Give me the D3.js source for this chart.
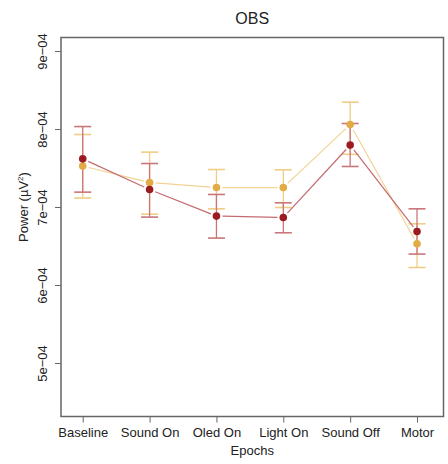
<!DOCTYPE html>
<html>
<head>
<meta charset="utf-8">
<script src="https://cdn.jsdelivr.net/npm/d3@7"></script>
<style>
  html, body { margin: 0; padding: 0; background: #fff; }
  svg text { font-family: "Liberation Sans", Arial, sans-serif; fill: #222; }
</style>
</head>
<body>
<svg id="chart" width="448" height="464"></svg>
<script>
// Epoch categories along the x axis
const epochs = ["Baseline", "Sound On", "Oled On", "Light On", "Sound Off", "Motor"];

// Dark red series: mean power with lower / upper error limits
const redMean  = [7.624e-4, 7.231e-4, 6.890e-4, 6.872e-4, 7.800e-4, 6.692e-4];
const redLow   = [7.197e-4, 6.877e-4, 6.608e-4, 6.676e-4, 7.526e-4, 6.403e-4];
const redHigh  = [8.038e-4, 7.564e-4, 7.167e-4, 7.060e-4, 8.077e-4, 6.983e-4];

// Gold series: mean power with lower / upper error limits
const goldMean = [7.531e-4, 7.321e-4, 7.256e-4, 7.256e-4, 8.064e-4, 6.535e-4];
const goldLow  = [7.121e-4, 6.915e-4, 6.983e-4, 7.000e-4, 7.682e-4, 6.231e-4];
const goldHigh = [7.936e-4, 7.710e-4, 7.487e-4, 7.483e-4, 8.351e-4, 6.791e-4];

// Y axis tick values and labels
const yTicks = [5e-4, 6e-4, 7e-4, 8e-4, 9e-4];
const yTickLabels = ["5e\u221204", "6e\u221204", "7e\u221204", "8e\u221204", "9e\u221204"];

const svg = d3.select("#chart");
const plot = { left: 61, right: 443.5, top: 37.5, bottom: 416.5 };

const x = d3.scaleLinear().domain([0.675, 6.396]).range([plot.left, plot.right]);
const y = d3.scaleLinear().domain([4.32e-4, 9.18e-4]).range([plot.bottom, plot.top]);

// Title
svg.append("text")
  .attr("x", (plot.left + plot.right) / 2).attr("y", 24)
  .attr("text-anchor", "middle").attr("font-size", 16)
  .text("OBS");

// Y axis
const yAxis = d3.axisLeft(y).tickValues(yTicks)
  .tickFormat((d, i) => yTickLabels[i]).tickSize(6).tickPadding(0);
const gy = svg.append("g").attr("transform", `translate(${plot.left},0)`).call(yAxis);
gy.select(".domain").remove();
gy.selectAll(".tick line").attr("stroke", "#666");
gy.selectAll(".tick text")
  .attr("font-size", 13).attr("fill", "#222")
  .attr("text-anchor", "middle")
  .attr("transform", d => `translate(${42.5 - plot.left},${y(d)}) rotate(-90)`)
  .attr("x", 0).attr("y", 0).attr("dy", "0.35em");
gy.selectAll(".tick").attr("transform", null);
gy.selectAll(".tick line").attr("transform", d => `translate(0,${y(d)})`);

// X axis
const xAxis = d3.axisBottom(x).tickValues(d3.range(1, epochs.length + 1))
  .tickFormat(d => epochs[d - 1]).tickSize(6).tickPadding(5);
const gx = svg.append("g").attr("transform", `translate(0,${plot.bottom})`).call(xAxis);
gx.select(".domain").remove();
gx.selectAll(".tick line").attr("stroke", "#666");
gx.selectAll(".tick text").attr("font-size", 13).attr("fill", "#222");

// Plot frame
svg.append("rect")
  .attr("x", plot.left).attr("y", plot.top)
  .attr("width", plot.right - plot.left).attr("height", plot.bottom - plot.top)
  .attr("fill", "none").attr("stroke", "#666").attr("stroke-width", 1.5);

// Axis titles
svg.append("text")
  .attr("x", (plot.left + plot.right) / 2).attr("y", 455)
  .attr("text-anchor", "middle").attr("font-size", 13)
  .text("Epochs");

const yt = svg.append("text")
  .attr("transform", `translate(28,207) rotate(-90)`)
  .attr("text-anchor", "middle").attr("font-size", 13);
yt.append("tspan").text("Power (\u00b5V");
yt.append("tspan").attr("font-size", 8).attr("dy", -5).text("2");
yt.append("tspan").attr("dy", 5).text(")");

// Draws one series: broken connecting segments and error bars
function drawSeries(mean, low, high, barColor, lineColor) {
  const g = svg.append("g");
  const gap = 6;
  for (let i = 0; i < mean.length - 1; i++) {
    const x1 = x(i + 1), y1 = y(mean[i]);
    const x2 = x(i + 2), y2 = y(mean[i + 1]);
    const dx = x2 - x1, dy = y2 - y1, len = Math.hypot(dx, dy);
    const ux = dx / len, uy = dy / len;
    g.append("line")
      .attr("x1", x1 + ux * gap).attr("y1", y1 + uy * gap)
      .attr("x2", x2 - ux * gap).attr("y2", y2 - uy * gap)
      .attr("stroke", lineColor).attr("stroke-width", 1.2);
  }
  mean.forEach((m, i) => {
    const cx = x(i + 1);
    g.append("line")
      .attr("x1", cx).attr("x2", cx).attr("y1", y(low[i])).attr("y2", y(high[i]))
      .attr("stroke", barColor).attr("stroke-width", 1.3);
    [low[i], high[i]].forEach(v => {
      g.append("line")
        .attr("x1", cx - 8.5).attr("x2", cx + 8.5).attr("y1", y(v)).attr("y2", y(v))
        .attr("stroke", barColor).attr("stroke-width", 1.6);
    });
  });
  return g;
}

drawSeries(goldMean, goldLow, goldHigh, "#f0cd86", "#f2d394");
drawSeries(redMean, redLow, redHigh, "#c9767a", "#c26b70");

// Points on top of everything
goldMean.forEach((m, i) => {
  svg.append("circle").attr("cx", x(i + 1)).attr("cy", y(m)).attr("r", 3.8).attr("fill", "#e3ab45");
});
redMean.forEach((m, i) => {
  svg.append("circle").attr("cx", x(i + 1)).attr("cy", y(m)).attr("r", 3.8).attr("fill", "#9b1b20");
});
</script>
</body>
</html>
